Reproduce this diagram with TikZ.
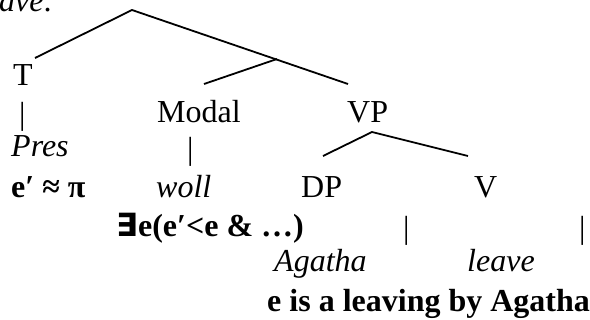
\documentclass[tikz,border=0pt]{standalone}
\usepackage{fontspec}
\setmainfont{Liberation Serif}
\newfontfamily\djv{DejaVu Sans}
\begin{document}
\begin{tikzpicture}[x=1pt,y=-1pt,
  lbl/.style={inner sep=0pt,anchor=base west,font=\fontsize{32}{36}\selectfont},
  edge/.style={line width=1.8pt}]
\useasboundingbox (0,0) rectangle (590,320);
% header fragment
\node[lbl,font=\fontsize{32}{36}\selectfont\itshape] (hdr) at (-1,12) {ave:};
% tree points
\coordinate (top) at (132,10);
\coordinate (tl) at (35,58);
\coordinate (mid) at (277,59);
\coordinate (tr) at (348,84);
\coordinate (ml) at (204,84);
\coordinate (vp) at (372,132);
\coordinate (vpl) at (323,156);
\coordinate (vpr) at (468,156);
\draw[edge] (tl) -- (top) -- (tr);
\draw[edge] (ml) -- (mid);
\draw[edge] (vpl) -- (vp) -- (vpr);
% labels
\node[lbl] (T) at (13,86) {T};
\node[lbl] (bar1) at (19,125) {|};
\node[lbl,font=\fontsize{32}{36}\selectfont\itshape] (pres) at (11,157) {Pres};
\node[lbl] (modal) at (157,123) {Modal};
\node[lbl] (vpt) at (347,123) {VP};
\node[lbl] (bar2) at (187,160) {|};
\node[lbl,font=\fontsize{32}{36}\selectfont\bfseries] (epi) at (11,198) {e′ ≈ π};
\node[lbl,font=\fontsize{32}{36}\selectfont\itshape] (woll) at (156,198) {woll};
\node[lbl] (dp) at (301,198) {DP};
\node[lbl] (v) at (474,198) {V};
\node[lbl,font=\fontsize{32}{36}\selectfont\bfseries] (ex) at (116,237) {{\djv\bfseries ∃}e(e′<e \& …)};
\node[lbl] (bar3) at (403,239) {|};
\node[lbl] (bar4) at (579,239) {|};
\node[lbl,font=\fontsize{32}{36}\selectfont\itshape] (agatha) at (274,272) {Agatha};
\node[lbl,font=\fontsize{32}{36}\selectfont\itshape] (leave) at (467,272) {leave};
\node[lbl,font=\fontsize{32}{36}\selectfont\bfseries] (ev) at (267,312) {e is a leaving by Agatha};
\end{tikzpicture}
\end{document}
